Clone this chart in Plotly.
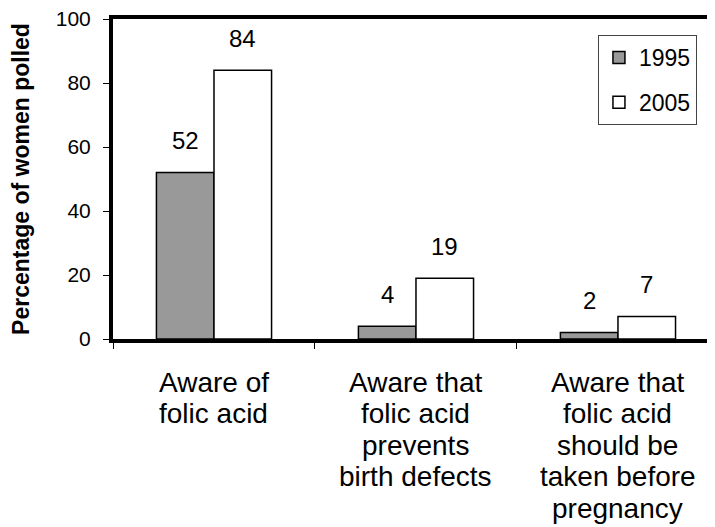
"""Folic acid awareness: grouped bar chart 1995 vs 2005"""

import plotly.graph_objects as go

categories = [
    "Aware of<br>folic acid",
    "Aware that<br>folic acid<br>prevents<br>birth defects",
    "Aware that<br>folic acid<br>should be<br>taken before<br>pregnancy",
]
years = ["1995", "2005"]
values_1995 = [52, 4, 2]
values_2005 = [84, 19, 7]
y_ticks = [0, 20, 40, 60, 80, 100]

FONT = "Arial, Liberation Sans, sans-serif"
BAR_W = 0.285  # fraction of category width per bar
CAT_PX = 202   # approx pixel width of a category

x_idx = list(range(len(categories)))

fig = go.Figure()
fig.add_trace(go.Bar(
    x=x_idx, y=values_1995, name=years[0], legendgroup="a",
    marker=dict(color="#999999", line=dict(color="black", width=1.5)),
    width=BAR_W, offset=-BAR_W,
))
fig.add_trace(go.Bar(
    x=x_idx, y=values_2005, name=years[1], legendgroup="b",
    marker=dict(color="white", line=dict(color="black", width=1.5)),
    width=BAR_W, offset=0,
))

# value labels above bars
for vals, sign in ((values_1995, -1), (values_2005, 1)):
    for i, v in enumerate(vals):
        fig.add_annotation(
            x=i, y=v, text=str(v), showarrow=False,
            xshift=sign * BAR_W * CAT_PX / 2, yshift=32, yanchor="middle",
            font=dict(family=FONT, size=24, color="black"),
        )

# category labels, one annotation per line for wider line spacing
for i, cat in enumerate(categories):
    for k, line in enumerate(cat.split("<br>")):
        fig.add_annotation(
            x=i, y=0, yref="paper", text=line, showarrow=False,
            yanchor="middle", yshift=-43 - 31.5 * k,
            font=dict(family=FONT, size=28, color="black"),
        )

# page body adds an 8px offset, so margins are trimmed by 8px
fig.update_layout(
    width=715, height=527,
    margin=dict(l=105, r=0, t=11, b=196),
    paper_bgcolor="white", plot_bgcolor="white",
    barmode="overlay",
    font=dict(family=FONT, color="black"),
    showlegend=True,
    legend=dict(
        x=0.795, y=0.95, xanchor="left", yanchor="top",
        bordercolor="#444444", borderwidth=1, bgcolor="white",
        font=dict(family=FONT, size=23, color="black"),
        tracegroupgap=12, itemwidth=30,
    ),
)
fig.update_xaxes(
    range=[-0.5, 2.52], tickvals=[-0.5, 0.5, 1.5], ticktext=["", "", ""],
    ticks="outside", ticklen=6, tickwidth=1, tickcolor="black",
    showline=True, linewidth=4, linecolor="black", mirror=True,
    showgrid=False, zeroline=False, automargin=False,
)
fig.update_yaxes(
    range=[0, 100], tickvals=y_ticks,
    ticks="outside", ticklen=6, tickwidth=1, tickcolor="black",
    tickfont=dict(family=FONT, size=21, color="black"),
    ticklabelstandoff=8, ticklabeloverflow="allow",
    showline=True, linewidth=4, linecolor="black",
    showgrid=False, zeroline=False, automargin=False,
    title=dict(text="<b>Percentage of women polled</b>", standoff=34,
               font=dict(family=FONT, size=23, color="black")),
)

fig.write_html("out.html")
